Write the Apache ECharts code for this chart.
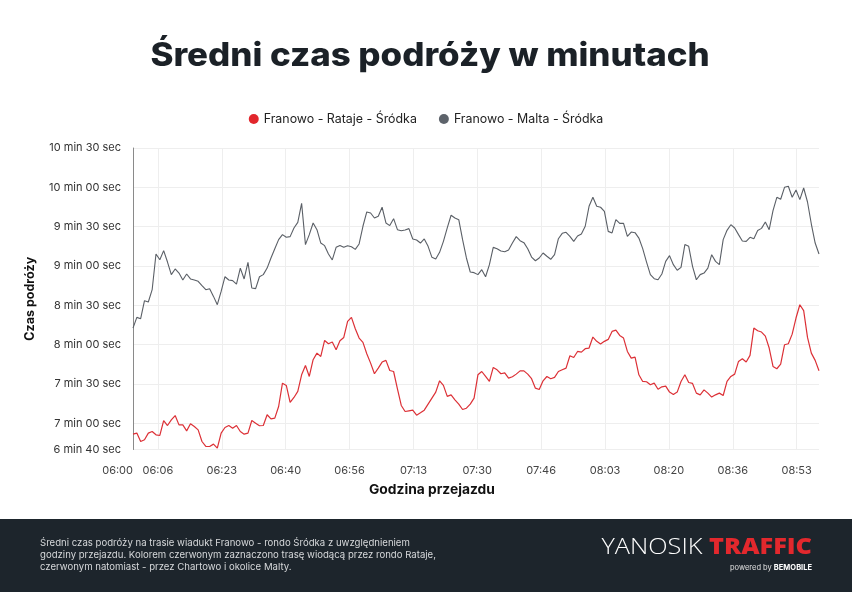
<!DOCTYPE html>
<html>
<head>
<meta charset="utf-8">
<script src="https://cdn.jsdelivr.net/npm/echarts@6/dist/echarts.min.js"></script>
<style>
html,body{margin:0;padding:0;background:#fff;}
#chart{width:852px;height:592px;}
</style>
</head>
<body>
<div id="chart"></div>
<script>
// Minutes after 06:00 at which x tick labels sit, and their texts
const xTickMinutes = [0, 6.5, 23.17, 39.83, 56.5, 73.17, 89.83, 106.5, 123.17, 139.83, 156.5, 173.17];
const xTickLabels = ['06:00','06:06','06:23','06:40','06:56','07:13','07:30','07:46','08:03','08:20','08:36','08:53'];

// Y ticks in seconds and their labels
const yTicks = [400, 420, 450, 480, 510, 540, 570, 600, 630];
const yTickLabels = ['6 min 40 sec','7 min 00 sec','7 min 30 sec','8 min 00 sec','8 min 30 sec','9 min 00 sec','9 min 30 sec','10 min 00 sec','10 min 30 sec'];

const seriesNames = ['Franowo - Rataje - Śródka', 'Franowo - Malta - Śródka'];

// Travel time in seconds, one value per minute from 06:00 (index = minutes after 06:00)
const rataje = [
  411.7, 412.5, 406.1, 407.4, 412.5, 413.7, 411.2, 410.7, 422.1, 418.3,
  422.6, 425.9, 418.8, 418.8, 414.2, 419.6, 417.5, 415.0, 406.1, 402.3,
  402.3, 404.1, 401.0, 412.5, 416.8, 418.3, 416.3, 418.3, 413.7, 411.7,
  412.5, 422.1, 420.1, 418.1, 418.3, 426.5, 423.4, 423.9, 432.8, 450.6,
  448.9, 435.9, 439.7, 444.3, 457.0, 464.1, 455.7,
  468.5, 473.5, 471.0, 483.2, 480.7, 482.0, 476.1, 483.0, 485.5, 497.7,
  500.8, 492.1, 485.0, 481.7, 473.0, 465.9, 457.8, 462.1, 466.7, 468.0,
  460.3, 459.5, 446.3, 433.6, 429.0, 429.5, 430.0, 426.2, 428.0, 430.0,
  434.6, 439.2, 443.8, 452.4, 448.9, 440.5, 441.7, 437.9, 434.6, 430.5,
  431.5, 434.6, 439.2, 457.0,
  459.5, 455.7, 451.9, 462.6, 460.8, 457.8, 458.5, 454.5, 455.5, 457.5,
  460.0, 460.0, 457.5, 454.0, 446.8, 445.8, 452.4, 455.7, 454.0, 455.0,
  459.5, 460.8, 462.1, 471.5, 470.2, 474.8, 474.3, 476.9, 477.4, 485.8,
  482.5, 480.4, 482.5, 484.0, 490.1, 491.1, 487.0, 485.0, 474.8, 469.7,
  470.5, 457.0, 451.9, 451.7,
  449.4, 450.6, 446.0, 447.8, 448.3, 443.8, 442.0, 443.8, 451.9, 457.0,
  451.1, 450.4, 443.0, 441.7, 445.5, 443.0, 440.0, 441.7, 443.0, 441.2,
  451.9, 455.7, 457.5, 467.2, 469.2, 466.7, 471.8, 492.6, 490.6, 489.6,
  486.5, 477.4, 463.4, 461.6, 465.1, 479.9, 480.7, 488.0, 500.3, 510.4,
  505.9, 485.5, 473.5, 468.0, 460.1
];
const malta = [
  492.6, 500.8, 499.8, 513.5, 512.5, 521.9, 549.1, 544.8, 551.7, 543.0,
  533.4, 537.7, 534.6, 529.3, 533.9, 530.1, 529.3, 528.3, 525.0, 521.9,
  522.7, 516.8, 510.5, 520.6, 531.8, 529.3, 528.8, 526.2, 538.4, 530.1,
  542.8, 523.2, 522.7, 531.8, 533.4, 538.4, 546.1, 553.2, 560.1, 563.9,
  561.9, 562.4, 569.0, 573.3, 587.8, 556.3, 563.9,
  572.8, 567.7, 557.5, 555.5, 549.1, 544.6, 554.2, 555.7, 554.2, 555.5,
  554.7, 552.7, 556.8, 570.3, 581.2, 580.4, 576.6, 577.9, 584.8, 572.8,
  570.8, 576.1, 567.7, 566.9, 567.5, 568.5, 560.6, 559.8, 557.5, 560.6,
  555.0, 546.6, 545.3, 550.4, 558.8, 569.0, 578.7, 576.6, 575.3, 560.1,
  546.1, 535.4, 534.9, 533.4,
  537.2, 531.8, 541.0, 554.2, 553.2, 551.4, 550.9, 552.2, 557.5, 562.4,
  559.3, 557.8, 553.2, 546.8, 544.0, 546.1, 549.9, 547.4, 545.1, 548.6,
  560.8, 564.9, 565.7, 562.6, 558.8, 562.9, 564.4, 570.3, 585.5, 592.4,
  585.5, 584.8, 581.7, 566.4, 565.2, 575.3, 572.5, 572.5, 562.6, 565.9,
  565.4, 561.3, 553.2, 543.0,
  533.4, 530.3, 529.5, 533.9, 543.5, 547.9, 541.0, 536.7, 538.9, 556.3,
  555.0, 539.7, 529.5, 533.4, 534.6, 538.4, 548.6, 543.5, 541.0, 560.1,
  567.2, 571.5, 569.0, 563.9, 559.1, 558.8, 561.9, 560.8, 567.0, 568.7,
  573.6, 567.7, 582.2, 592.4, 590.9, 600.0, 600.8, 592.4, 598.0, 590.6,
  599.5, 588.8, 572.0, 557.5, 549.1
];

const FONT = 'Inter, "Noto Sans", sans-serif';
const chart = echarts.init(document.getElementById('chart'), null, {renderer: 'canvas'});

function xLabel(v) {
  for (let i = 0; i < xTickMinutes.length; i++) {
    if (Math.abs(xTickMinutes[i] - v) < 0.01) return xTickLabels[i];
  }
  return '';
}
function yLabel(v) {
  for (let i = 0; i < yTicks.length; i++) {
    if (Math.abs(yTicks[i] - v) < 0.01) return yTickLabels[i];
  }
  return '';
}

const option = {
  backgroundColor: '#ffffff',
  animation: false,
  legend: {
    top: 108,
    left: 'center',
    icon: 'circle',
    itemWidth: 10,
    itemHeight: 10,
    itemGap: 22,
    textStyle: {fontFamily: FONT, fontSize: 12.4, color: '#222'},
    data: seriesNames
  },
  grid: {left: 133, right: 33, top: 148, bottom: 142.5, containLabel: false},
  xAxis: {
    type: 'value',
    min: 0,
    max: rataje.length - 1,
    axisLine: {show: false},
    axisTick: {show: false, customValues: xTickMinutes},
    splitLine: {show: true, lineStyle: {color: '#eeeeee', width: 1}},
    axisLabel: {
      customValues: xTickMinutes,
      formatter: xLabel,
      alignMinLabel: 'right',
      margin: 16,
      fontFamily: FONT,
      fontSize: 11,
      color: '#444'
    }
  },
  yAxis: {
    type: 'value',
    min: 400,
    max: 630,
    name: 'Czas podróży',
    nameLocation: 'middle',
    nameRotate: 90,
    nameGap: 96,
    nameTextStyle: {fontFamily: FONT, fontSize: 12.5, fontWeight: 'bold', color: '#111'},
    axisLine: {show: true, lineStyle: {color: '#8a8a8a', width: 1}},
    axisTick: {show: false, customValues: yTicks},
    splitLine: {show: true, lineStyle: {color: '#eeeeee', width: 1}},
    axisLabel: {
      customValues: yTicks,
      formatter: yLabel,
      margin: 12,
      fontFamily: FONT,
      fontSize: 11,
      color: '#333'
    }
  },
  series: [
    {
      name: seriesNames[0],
      type: 'line',
      showSymbol: false,
      symbol: 'circle',
      color: '#e2262c',
      lineStyle: {color: '#dc3036', width: 1.2},
      data: rataje.map((v, i) => [i, v])
    },
    {
      name: seriesNames[1],
      type: 'line',
      showSymbol: false,
      symbol: 'circle',
      color: '#5d636b',
      lineStyle: {color: '#5a5f66', width: 1.1},
      data: malta.map((v, i) => [i, v])
    }
  ],
  graphic: [
    {
      type: 'text',
      x: 430,
      y: 40,
      scaleX: 1.09,
      style: {
        text: 'Średni czas podróży w minutach',
        align: 'center',
        verticalAlign: 'top',
        fontFamily: FONT, fontSize: 32, fontWeight: 800, fill: '#1b2127'
      }
    },
    {
      type: 'text',
      x: 369,
      y: 483,
      style: {text: 'Godzina przejazdu', fontFamily: FONT, fontSize: 13.8, fontWeight: 'bold', fill: '#111', verticalAlign: 'top'}
    },
    {
      type: 'rect',
      shape: {x: 0, y: 519, width: 852, height: 73},
      style: {fill: '#1d252c'},
      z: -1
    },
    {
      type: 'text',
      x: 40,
      y: 537,
      style: {
        text: 'Średni czas podróży na trasie wiadukt Franowo - rondo Śródka z uwzględnieniem\ngodziny przejazdu. Kolorem czerwonym zaznaczono trasę wiodącą przez rondo Rataje,\nczerwonym natomiast - przez Chartowo i okolice Malty.',
        fontFamily: FONT,
        fontSize: 9.6,
        lineHeight: 12,
        fill: '#d6d8da'
      }
    },
    {
      type: 'text',
      x: 812,
      y: 548,
      scaleX: 1.15,
      style: {
        text: '{a|YANOSIK }{b|TRAFFIC}',
        align: 'right',
        verticalAlign: 'middle',
        rich: {
          a: {fontFamily: '"Open Sans", sans-serif', fontSize: 22, fontWeight: 300, fill: '#ffffff'},
          b: {fontFamily: '"Open Sans", sans-serif', fontSize: 22, fontWeight: 800, fill: '#e3282d'}
        }
      }
    },
    {
      type: 'text',
      x: 812,
      y: 568,
      style: {
        text: 'powered by {c|BEMOBILE}',
        align: 'right',
        verticalAlign: 'middle',
        fontFamily: FONT,
        fontSize: 7.5,
        fill: '#e0e0e0',
        rich: {c: {fontFamily: FONT, fontSize: 7.5, fontWeight: 'bold', fill: '#ffffff'}}
      }
    }
  ]
};
chart.setOption(option);
</script>
</body>
</html>
